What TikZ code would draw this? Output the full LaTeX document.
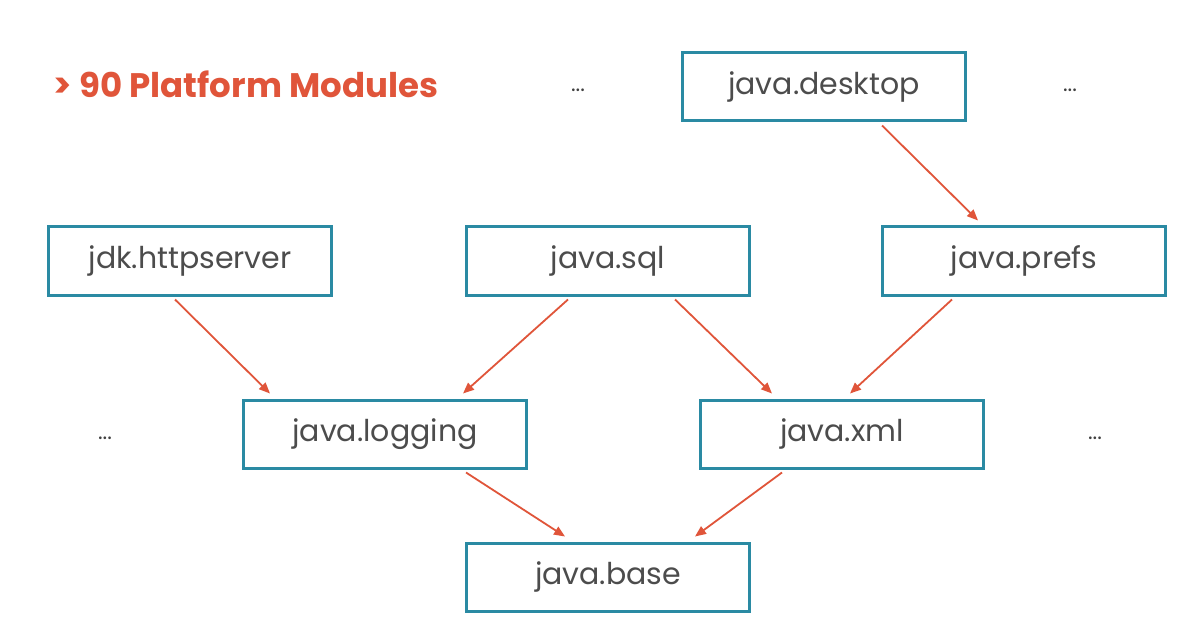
\documentclass[tikz,border=0pt]{standalone}
\usepackage{fontspec}
\setmainfont{Poppins}
\usetikzlibrary{calc,arrows.meta}
\definecolor{teal}{HTML}{2A8AA3}
\definecolor{org}{HTML}{E0553A}
\begin{document}
\begin{tikzpicture}[x=1pt,y=-1pt,
 box/.style={draw=teal,line width=3pt,minimum width=283pt,minimum height=68pt,inner sep=0pt,font=\fontsize{30}{34}\selectfont,text=black!70},
 arr/.style={draw=org,line width=1.8pt,-{Triangle[length=11pt,width=9pt]}},
 dots/.style={font=\fontsize{22}{26}\selectfont,text=black!75}]
\useasboundingbox[fill=white] (0,0) rectangle (1198,628);
\node[anchor=west,text=org,font=\fontsize{34}{38}\selectfont\bfseries] (title) at (50,84) {> 90 Platform Modules};
\node[box] (desk) at (824,87) {java.desktop};
\node[box] (http) at (190,261) {jdk.httpserver};
\node[box] (sql) at (608,261) {java.sql};
\node[box] (prefs) at (1024,261) {java.prefs};
\node[box] (log) at (385,434) {java.logging};
\node[box] (xml) at (842,434) {java.xml};
\node[box] (base) at (608,577) {java.base};
\node[dots] (d1) at (578,90) {...};
\node[dots] (d2) at (1070,90) {...};
\node[dots] (d3) at (105,438) {...};
\node[dots] (d4) at (1095,438) {...};
\draw[arr] ($(desk.south)+(58,3)$) -- ($(prefs.north)+(-46,-5)$);
\draw[arr] ($(http.south)+(-15,3)$) -- ($(log.north)+(-115,-5)$);
\draw[arr] ($(sql.south)+(-40,3)$) -- ($(log.north)+(78,-5)$);
\draw[arr] ($(sql.south)+(67,3)$) -- ($(xml.north)+(-70,-5)$);
\draw[arr] ($(prefs.south)+(-72,3)$) -- ($(xml.north)+(8,-5)$);
\draw[arr] ($(log.south)+(81,3)$) -- ($(base.north)+(-43,-5)$);
\draw[arr] ($(xml.south)+(-60,3)$) -- ($(base.north)+(87,-5)$);
\end{tikzpicture}
\end{document}
